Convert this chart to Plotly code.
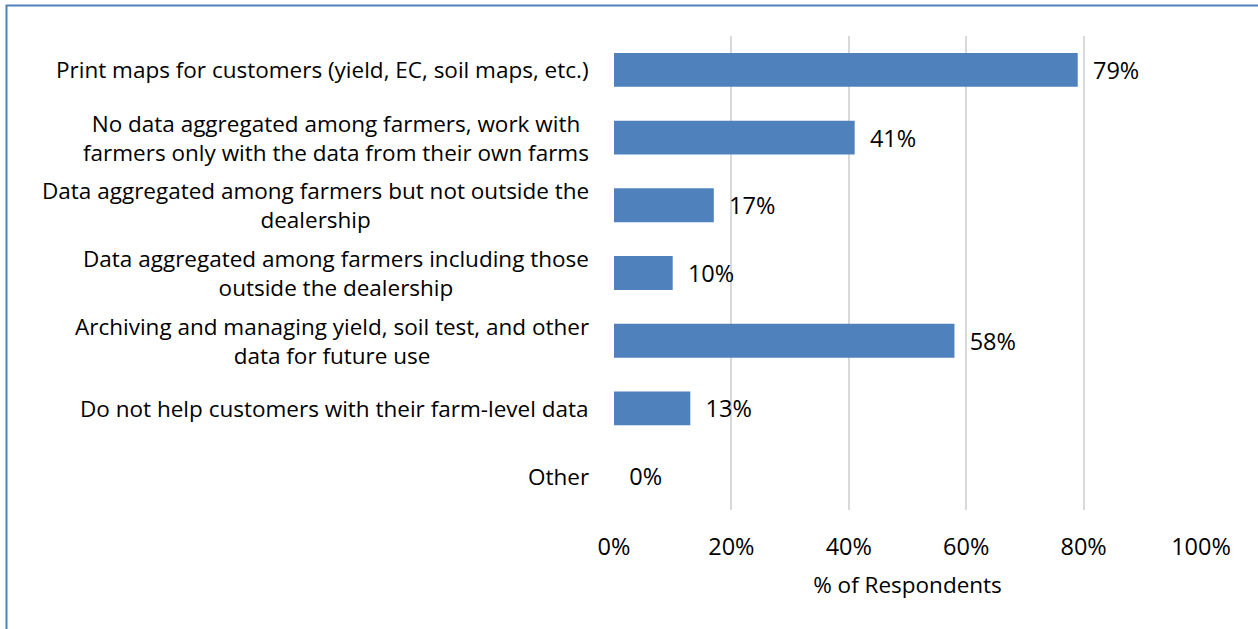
import plotly.graph_objects as go

categories = [
    "Print maps for customers (yield, EC, soil maps, etc.)",
    "No data aggregated among farmers, work with<br>farmers only with the data from their own farms",
    "Data aggregated among farmers but not outside the<br>dealership",
    "Data aggregated among farmers including those<br>outside the dealership",
    "Archiving and managing yield, soil test, and other<br>data for future use",
    "Do not help customers with their farm-level data",
    "Other",
]
values = [79, 41, 17, 10, 58, 13, 0]
tick_vals = [0, 20, 40, 60, 80, 100]
tick_text = ["0%", "20%", "40%", "60%", "80%", "100%"]

FONT = "Open Sans"
FS = 22.5
NFS = 23.5
BLUE = "#4F81BD"

fig = go.Figure()
fig.add_trace(go.Bar(
    y=categories,
    x=values,
    orientation="h",
    marker=dict(color=BLUE, line=dict(width=0)),
    text=[f"{v}%" for v in values],
    texttemplate="  %{text}",
    textposition="outside",
    textfont=dict(family=FONT, size=NFS, color="#000000"),
    cliponaxis=False,
    width=0.5,
))

for c in categories:
    fig.add_annotation(
        x=0, xref="paper", y=c, yref="y",
        text=c, showarrow=False, xanchor="right", yanchor="middle",
        align="center", xshift=-23,
        font=dict(family=FONT, size=FS, color="#000000"),
    )

L, R, T, B = 614, 57, 36, 119
W, H = 1258, 629
pw, ph = W - L - R, H - T - B
fig.add_shape(
    type="rect", xref="paper", yref="paper",
    x0=(6.5 - L) / pw, x1=(W + 20 - L) / pw,
    y0=-(B + 20) / ph, y1=(ph + T - 5.5) / ph,
    line=dict(color=BLUE, width=2), fillcolor="rgba(0,0,0,0)", layer="above",
)

fig.update_layout(
    width=W, height=H,
    margin=dict(l=L, r=R, t=T, b=B),
    paper_bgcolor="white", plot_bgcolor="white",
    showlegend=False,
    bargap=0.5,
    font=dict(family=FONT, size=FS, color="#000000"),
    xaxis=dict(
        range=[0, 100], tickvals=tick_vals, ticktext=tick_text,
        showgrid=True, gridcolor="#D9D9D9", gridwidth=1.5,
        zeroline=False, showline=False, ticks="",
        ticklabelstandoff=20,
        tickfont=dict(family=FONT, size=NFS, color="#000000"),
        title=dict(text="% of Respondents", standoff=16,
                   font=dict(family=FONT, size=FS, color="#000000")),
        fixedrange=True,
    ),
    yaxis=dict(
        autorange="reversed", showticklabels=False, showgrid=False,
        zeroline=False, showline=False, ticks="", fixedrange=True,
    ),
)

fig.write_html("out.html")
